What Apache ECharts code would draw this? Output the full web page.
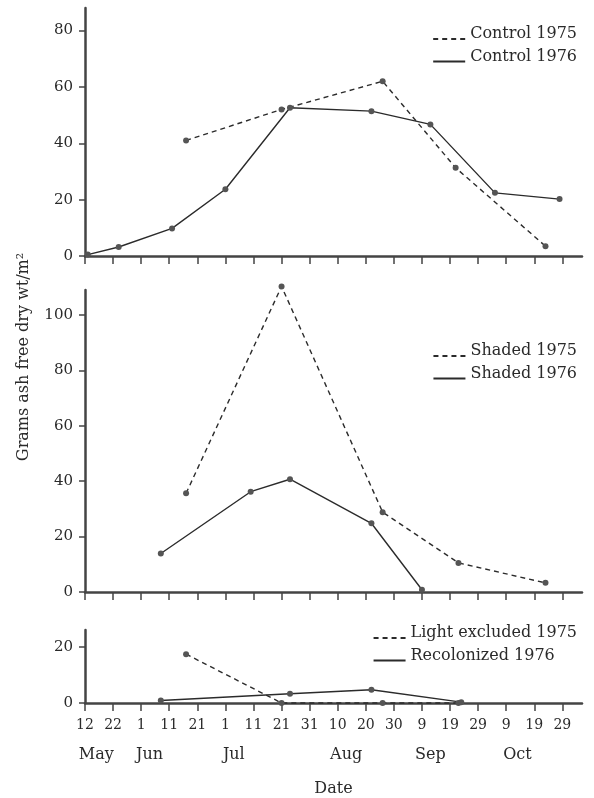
<!DOCTYPE html>
<html><head><meta charset="utf-8">
<script src="https://cdn.jsdelivr.net/npm/echarts@6/dist/echarts.min.js"></script>
<style>html,body{margin:0;padding:0;background:#fff}#c{width:594px;height:798px}</style>
</head><body><div id="c"></div>
<script>
// ---- data ----
const startDate = '05-12';
const endDate = '11-05';
const tickDates = ['05-12','05-22','06-01','06-11','06-21','07-01','07-11','07-21','07-31','08-10','08-20','08-30','09-09','09-19','09-29','10-09','10-19','10-29'];
const monthNames = ['May','Jun','Jul','Aug','Sep','Oct'];
const monthLabelDates = ['05-16','06-04','07-04','08-13','09-12','10-13'];

const control1975Dates = ['06-17','07-21','08-26','09-21','10-23'];
const control1975Values = [41, 52, 62, 31.3, 3.5];
const control1976Dates = ['05-13','05-24','06-12','07-01','07-24','08-22','09-12','10-05','10-28'];
const control1976Values = [0.5, 3.2, 9.8, 23.7, 52.6, 51.4, 46.7, 22.4, 20.2];
const shaded1975Dates = ['06-17','07-21','08-26','09-22','10-23'];
const shaded1975Values = [35.6, 110.3, 28.8, 10.5, 3.3];
const shaded1976Dates = ['06-08','07-10','07-24','08-22','09-09'];
const shaded1976Values = [13.9, 36.2, 40.7, 24.8, 0.8];
const lightExcl1975Dates = ['06-17','07-21','08-26','09-22'];
const lightExcl1975Values = [17.4, 0, 0, 0];
const recol1976Dates = ['06-08','07-24','08-22','09-23'];
const recol1976Values = [0.9, 3.3, 4.7, 0.3];

const topTicks = [0, 20, 40, 60, 80];
const midTicks = [0, 20, 40, 60, 80, 100];
const botTicks = [0, 20];
const topMax = 88, midMax = 109, botMax = 26;

// ---- helpers ----
function dayOffset(s) {
  const [m, d] = s.split('-').map(Number);
  const [m0, d0] = startDate.split('-').map(Number);
  return Math.round((Date.UTC(1975, m - 1, d) - Date.UTC(1975, m0 - 1, d0)) / 86400000);
}
const tickOffsets = tickDates.map(dayOffset);
const monthOffsets = monthLabelDates.map(dayOffset);
const xMax = dayOffset(endDate);
const pairs = (ds, vs) => ds.map((d, i) => [dayOffset(d), vs[i]]);

const FONT = 'DejaVu Serif';
const TXT = '#2a2a2a';
const AX = '#444';

const gridBase = { left: 85, right: 12 };
const grids = [
  Object.assign({ top: 8, height: 248 }, gridBase),
  Object.assign({ top: 290, height: 302 }, gridBase),
  Object.assign({ top: 630, height: 74 }, gridBase)
];

function xAx(gi, showLabels) {
  return {
    type: 'value', gridIndex: gi, min: 0, max: xMax,
    splitLine: { show: false },
    axisLine: { show: true, onZero: false, lineStyle: { color: AX, width: 2.5 } },
    axisTick: { show: true, inside: false, length: 8, customValues: tickOffsets, lineStyle: { color: AX, width: 1.5 } },
    axisLabel: showLabels ? {
      show: true, customValues: tickOffsets, margin: 15,
      fontFamily: FONT, fontSize: 14, color: TXT,
      formatter: v => String(Number(tickDates[tickOffsets.indexOf(v)].split('-')[1]))
    } : { show: false }
  };
}
function yAx(gi, max, ticks) {
  return {
    type: 'value', gridIndex: gi, min: 0, max: max,
    splitLine: { show: false },
    axisLine: { show: true, lineStyle: { color: AX, width: 2.5 } },
    axisTick: { show: true, length: 6, customValues: ticks, lineStyle: { color: AX, width: 1.5 } },
    axisLabel: { show: true, customValues: ticks, margin: 12, fontFamily: FONT, fontSize: 15, color: TXT }
  };
}

function ser(name, gi, ds, vs, dashed) {
  return {
    name, type: 'line', xAxisIndex: gi, yAxisIndex: gi,
    data: pairs(ds, vs), clip: false,
    symbol: 'circle', symbolSize: 6, showSymbol: true,
    itemStyle: { color: '#555' },
    lineStyle: { color: '#2b2b2b', width: 1.4, type: dashed ? [5, 4] : 'solid' },
    emphasis: { disabled: true }, animation: false
  };
}

function leg(top, names) {
  return {
    data: names, orient: 'vertical', right: 17, top: top, padding: 0,
    itemWidth: 32, itemHeight: 14, itemGap: -1,
    itemStyle: { opacity: 0 },
    formatter: n => '{t|' + n + '}\n{s| }',
    textStyle: {
      fontFamily: FONT, fontSize: 16, color: TXT,
      rich: {
        t: { fontFamily: FONT, fontSize: 16, color: TXT, lineHeight: 19 },
        s: { fontSize: 2, lineHeight: 10 }
      }
    },
    selectedMode: false
  };
}

const chart = echarts.init(document.getElementById('c'), null, { renderer: 'canvas' });
chart.setOption({
  animation: false,
  backgroundColor: '#fff',
  grid: grids,
  xAxis: [
    xAx(0, false), xAx(1, false), xAx(2, true),
    {
      type: 'value', gridIndex: 2, min: 0, max: xMax, position: 'bottom',
      splitLine: { show: false }, axisLine: { show: false }, axisTick: { show: false },
      axisLabel: {
        show: true, customValues: monthOffsets, margin: 44,
        fontFamily: FONT, fontSize: 16, color: TXT,
        formatter: v => monthNames[monthOffsets.indexOf(v)]
      },
      name: 'Date', nameLocation: 'middle', nameGap: 78,
      nameTextStyle: { fontFamily: FONT, fontSize: 16, color: TXT }
    }
  ],
  yAxis: [yAx(0, topMax, topTicks), yAx(1, midMax, midTicks), yAx(2, botMax, botTicks)],
  legend: [
    leg(26, ['Control 1975', 'Control 1976']),
    leg(343, ['Shaded 1975', 'Shaded 1976']),
    leg(625, ['Light excluded 1975', 'Recolonized 1976'])
  ],
  graphic: [{
    type: 'text', x: 24, y: 357, rotation: Math.PI / 2,
    style: { text: 'Grams ash free dry wt/m²', fontFamily: FONT, fontSize: 16, fill: TXT, align: 'center', verticalAlign: 'middle' }
  }],
  series: [
    ser('Control 1975', 0, control1975Dates, control1975Values, true),
    ser('Control 1976', 0, control1976Dates, control1976Values, false),
    ser('Shaded 1975', 1, shaded1975Dates, shaded1975Values, true),
    ser('Shaded 1976', 1, shaded1976Dates, shaded1976Values, false),
    ser('Light excluded 1975', 2, lightExcl1975Dates, lightExcl1975Values, true),
    ser('Recolonized 1976', 2, recol1976Dates, recol1976Values, false)
  ]
});
</script></body></html>
